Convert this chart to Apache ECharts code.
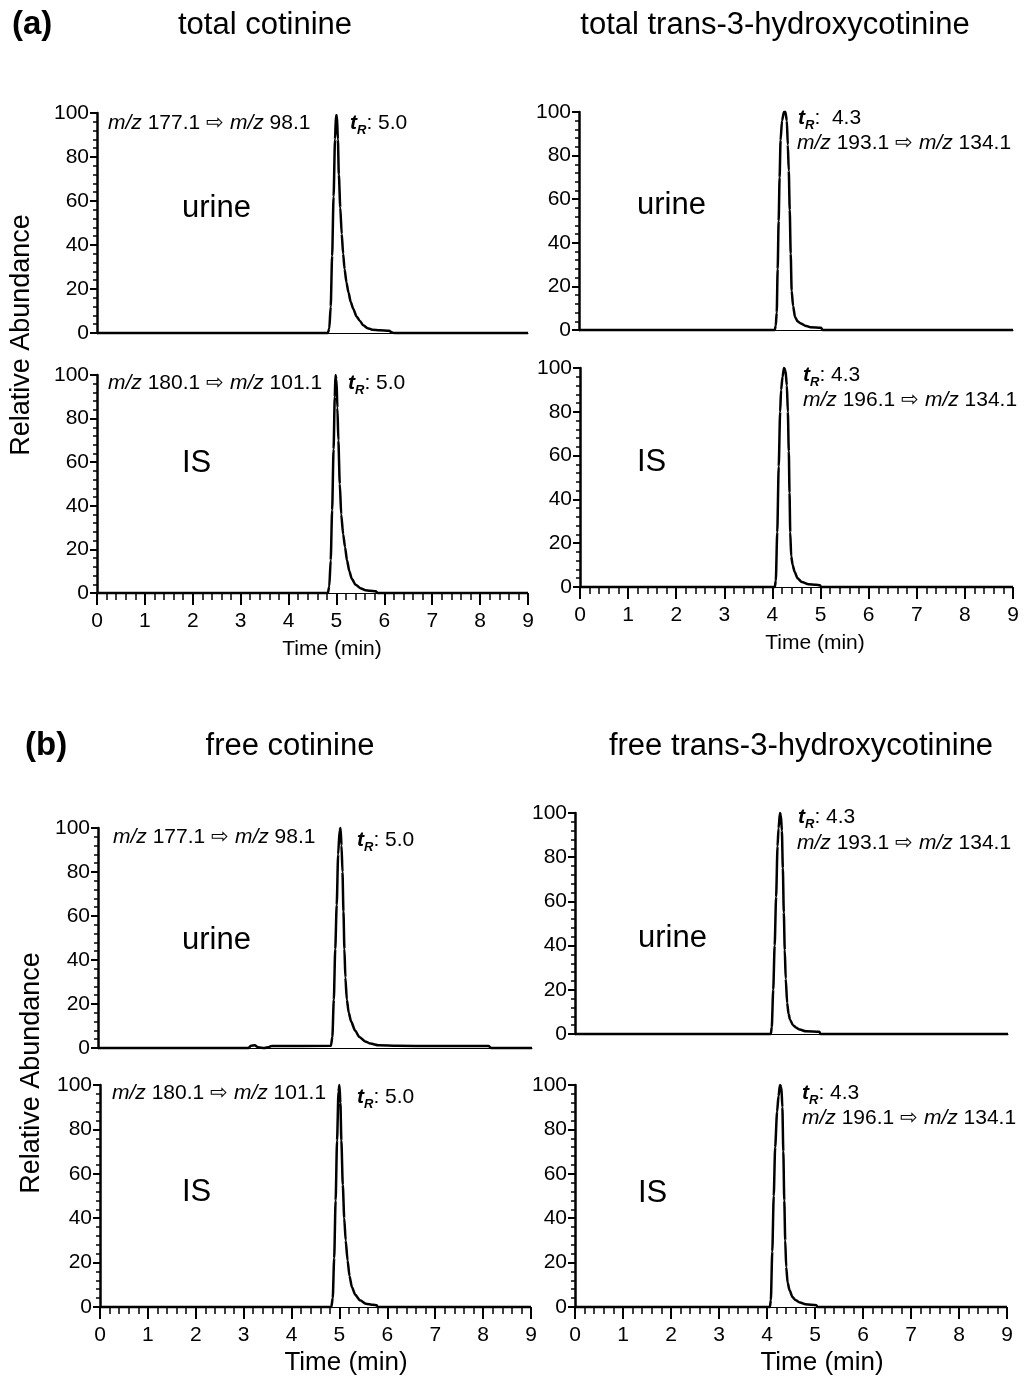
<!DOCTYPE html>
<html>
<head>
<meta charset="utf-8">
<script src="https://cdn.jsdelivr.net/npm/echarts@6/dist/echarts.min.js"></script>
<style>
  html, body { margin: 0; padding: 0; background: #fff; }
  #chart { width: 1024px; height: 1379px; }
</style>
</head>
<body>
<div id="chart"></div>
<script>
// retention time (min) vs relative abundance
const totCotUrine = [[0,0],[4.82,0],[4.85,2],[4.88,12],[4.91,35],[4.94,62],[4.97,88],[4.99,99],[5.01,99],[5.03,88],[5.05,72],[5.08,57],[5.11,45],[5.14,36],[5.17,29],[5.21,23],[5.25,18.5],[5.3,14],[5.35,11],[5.42,7.5],[5.49,5.5],[5.56,3.5],[5.65,2.2],[5.75,1.5],[5.9,1.2],[6.1,1],[6.15,0.3],[6.2,0],[9,0]]
const totCotIS = [[0,0],[4.82,0],[4.85,3],[4.88,15],[4.91,38],[4.94,66],[4.965,90],[4.98,100],[5.0,98],[5.02,85],[5.04,70],[5.07,50],[5.1,36],[5.14,27],[5.18,21],[5.22,15],[5.27,10],[5.32,6.5],[5.4,3.8],[5.5,2.2],[5.6,1.3],[5.7,1],[5.82,0.8],[5.86,0],[9,0]]
const totOhUrine = [[0,0],[4.06,0],[4.08,2],[4.1,8],[4.12,28],[4.14,50],[4.16,70],[4.18,87],[4.21,96],[4.25,100],[4.28,100],[4.31,96],[4.33,85],[4.35,73],[4.37,55],[4.39,35],[4.41,18],[4.44,11],[4.48,6],[4.53,4],[4.6,3],[4.69,2],[4.8,1.3],[5.02,1],[5.05,0],[9,0]]
const totOhIS = [[0,0],[4.05,0],[4.07,3],[4.1,25],[4.13,55],[4.16,80],[4.18,90],[4.21,96],[4.24,100],[4.27,99],[4.3,92],[4.32,80],[4.34,62],[4.355,43],[4.37,25],[4.39,14],[4.42,10],[4.46,7],[4.52,4],[4.61,2.3],[4.75,1.3],[4.9,1],[4.99,0.8],[5.01,0],[9,0]]
const freeCotUrine = [[0,0],[3.12,0],[3.17,1],[3.25,1.2],[3.32,0.3],[3.45,0],[3.55,0.5],[3.6,0.9],[4.83,1],[4.86,5],[4.89,22],[4.92,45],[4.95,65],[4.98,88],[5.01,99],[5.03,100],[5.05,92],[5.07,80],[5.09,62],[5.11,45],[5.13,32],[5.16,22],[5.2,16],[5.25,12],[5.33,8],[5.42,5],[5.54,3],[5.65,2],[5.82,1.2],[6.2,1],[7,0.9],[8.1,0.9],[8.15,0],[9,0]]
const freeCotIS = [[0,0],[4.83,0],[4.86,4],[4.89,22],[4.92,48],[4.95,75],[4.98,97],[5.0,100],[5.02,92],[5.04,75],[5.07,55],[5.1,40],[5.13,30],[5.17,21],[5.21,14],[5.26,9],[5.33,5.5],[5.43,3],[5.55,1.5],[5.7,1],[5.78,0.8],[5.8,0],[9,0]]
const freeOhUrine = [[0,0],[4.07,0],[4.09,3],[4.12,20],[4.15,40],[4.18,62],[4.21,85],[4.23,93],[4.26,100],[4.28,99],[4.3,92],[4.32,75],[4.34,55],[4.36,38],[4.38,25],[4.41,14],[4.44,9],[4.47,6.5],[4.53,4],[4.6,2.8],[4.67,2],[4.8,1.2],[5.08,1],[5.1,0],[9,0]]
const freeOhIS = [[0,0],[4.06,0],[4.08,3],[4.11,25],[4.14,50],[4.17,72],[4.21,88],[4.24,95],[4.27,100],[4.3,99],[4.32,90],[4.34,70],[4.36,48],[4.38,30],[4.4,18],[4.43,11],[4.47,7.5],[4.53,4.5],[4.6,3],[4.69,2],[4.8,1.2],[5.03,0.8],[5.05,0],[9,0]]

const xTicks = [0, 9, 1]
const yTicks = [0, 100, 20]

// panel boxes: left, top, width, height, shows time axis
const panels = [
  {data: totCotUrine, box: [97, 113, 431, 220], timeAxis: false},
  {data: totCotIS, box: [97, 375, 431, 218], timeAxis: true},
  {data: totOhUrine, box: [579, 112, 434, 218], timeAxis: false},
  {data: totOhIS, box: [580, 368, 433, 219], timeAxis: true},
  {data: freeCotUrine, box: [98, 828, 434, 220], timeAxis: false},
  {data: freeCotIS, box: [100, 1085, 431, 222], timeAxis: true},
  {data: freeOhUrine, box: [575, 813, 433, 221], timeAxis: false},
  {data: freeOhIS, box: [575, 1085, 432, 222], timeAxis: true}
]

const FONT = 'Liberation Sans, Arial, Helvetica, sans-serif'
const rich = {
  i: {fontStyle: 'italic', fontSize: 21, fontFamily: FONT, fill: '#000'},
  n: {fontSize: 21, fontFamily: FONT, fill: '#000'},
  t: {fontStyle: 'italic', fontWeight: 'bold', fontSize: 21, fontFamily: FONT, fill: '#000'},
  s: {fontStyle: 'italic', fontWeight: 'bold', fontSize: 13, fontFamily: FONT, fill: '#000', verticalAlign: 'bottom', lineHeight: 28}
}

function txt(x, y, text, size, opts) {
  opts = opts || {}
  return {
    type: 'text', x: x, y: y, rotation: opts.rotation || 0,
    style: {
      text: text, fill: '#000', fontFamily: FONT, fontSize: size,
      fontWeight: opts.bold ? 'bold' : 'normal',
      align: opts.align || 'left', verticalAlign: 'middle'
    }
  }
}
function ann(x, y, text) {
  return {type: 'text', x: x, y: y, style: {text: text, rich: rich, align: 'left', verticalAlign: 'middle', fontFamily: FONT, fontSize: 21, fill: '#000'}}
}
const mz = (a, b) => '{i|m/z}{n| ' + a + ' ⇨ }{i|m/z}{n| ' + b + '}'
const tr = v => '{t|t}{s|R}{n|: ' + v + '}'

const grids = [], xAxes = [], yAxes = [], series = []
panels.forEach((p, k) => {
  grids.push({left: p.box[0], top: p.box[1], width: p.box[2], height: p.box[3], containLabel: false})
  xAxes.push({
    type: 'value', gridIndex: k, min: xTicks[0], max: xTicks[1], interval: xTicks[2],
    axisLine: {show: true, onZero: false, lineStyle: {color: '#000', width: 1}},
    axisTick: {show: p.timeAxis, length: 12, lineStyle: {color: '#000', width: 2}},
    minorTick: {show: p.timeAxis, splitNumber: 5, length: 7, lineStyle: {color: '#000', width: 1.5}},
    axisLabel: {show: p.timeAxis, fontSize: 21, color: '#000', fontFamily: FONT, margin: 18},
    splitLine: {show: false}
  })
  yAxes.push({
    type: 'value', gridIndex: k, min: yTicks[0], max: yTicks[1], interval: yTicks[2],
    axisLine: {show: true, lineStyle: {color: '#000', width: 2.5}},
    axisTick: {show: true, length: 7, lineStyle: {color: '#000', width: 2}},
    minorTick: {show: true, splitNumber: 5, length: 4, lineStyle: {color: '#000', width: 1.5}},
    axisLabel: {fontSize: 21, color: '#000', fontFamily: FONT, margin: 8},
    splitLine: {show: false}
  })
  series.push({
    type: 'line', xAxisIndex: k, yAxisIndex: k, data: p.data,
    showSymbol: false, clip: false, smooth: 0.25, smoothMonotone: 'x',
    lineStyle: {color: '#000', width: 2.5}
  })
})

const graphics = [
  txt(12, 25, '(a)', 33, {bold: true}),
  txt(265, 25, 'total cotinine', 31, {align: 'center'}),
  txt(775, 25, 'total trans-3-hydroxycotinine', 31, {align: 'center'}),
  txt(25, 746, '(b)', 33, {bold: true}),
  txt(290, 746, 'free cotinine', 31, {align: 'center'}),
  txt(801, 746, 'free trans-3-hydroxycotinine', 31, {align: 'center'}),
  txt(22, 335, 'Relative Abundance', 27, {align: 'center', rotation: Math.PI / 2}),
  txt(32, 1073, 'Relative Abundance', 27, {align: 'center', rotation: Math.PI / 2}),
  txt(332, 649, 'Time (min)', 21, {align: 'center'}),
  txt(815, 643, 'Time (min)', 21, {align: 'center'}),
  txt(346, 1363, 'Time (min)', 26, {align: 'center'}),
  txt(822, 1363, 'Time (min)', 26, {align: 'center'}),
  txt(182, 208, 'urine', 31), txt(182, 463, 'IS', 31),
  txt(637, 205, 'urine', 31), txt(637, 462, 'IS', 31),
  txt(182, 940, 'urine', 31), txt(182, 1192, 'IS', 31),
  txt(638, 938, 'urine', 31), txt(638, 1193, 'IS', 31),
  ann(108, 123, mz('177.1', '98.1')), ann(350, 123, tr('5.0')),
  ann(108, 383, mz('180.1', '101.1')), ann(348, 383, tr('5.0')),
  ann(798, 118, tr(' 4.3')), ann(797, 143, mz('193.1', '134.1')),
  ann(803, 375, tr('4.3')), ann(803, 400, mz('196.1', '134.1')),
  ann(113, 837, mz('177.1', '98.1')), ann(357, 840, tr('5.0')),
  ann(112, 1093, mz('180.1', '101.1')), ann(357, 1097, tr('5.0')),
  ann(798, 817, tr('4.3')), ann(797, 843, mz('193.1', '134.1')),
  ann(802, 1093, tr('4.3')), ann(802, 1118, mz('196.1', '134.1'))
]

const myChart = echarts.init(document.getElementById('chart'), null, {renderer: 'canvas'})
const option = {
  backgroundColor: '#fff',
  animation: false,
  grid: grids,
  xAxis: xAxes,
  yAxis: yAxes,
  series: series,
  graphic: graphics
}
myChart.setOption(option)
</script>
</body>
</html>
